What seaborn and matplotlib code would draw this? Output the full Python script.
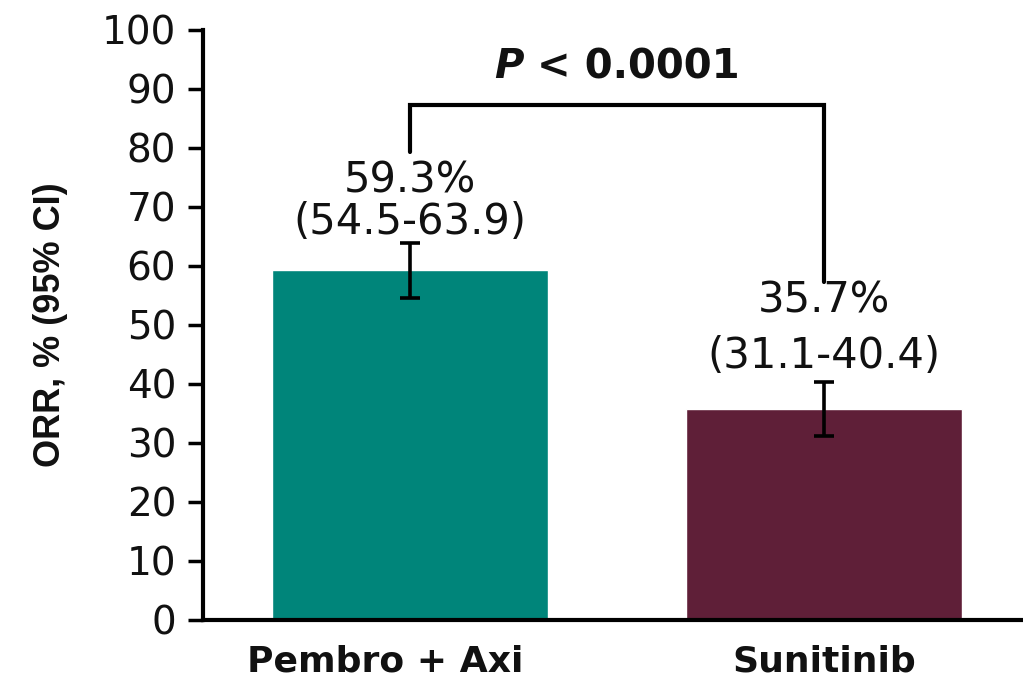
import matplotlib
matplotlib.use("Agg")
import matplotlib.pyplot as plt
import matplotlib.transforms as mtransforms
import seaborn as sns
import pandas as pd

# Objective response rate by treatment arm
arms = ["Pembro + Axi", "Sunitinib"]
orr = [59.3, 35.7]
ci_low = [54.5, 31.1]
ci_high = [63.9, 40.4]
colors = ["#00857A", "#5F1F38"]
yticks = [0, 10, 20, 30, 40, 50, 60, 70, 80, 90, 100]
p_text = " < 0.0001"

sns.set_theme(style="white")
plt.rcParams["font.family"] = ["DejaVu Sans"]

df = pd.DataFrame({"arm": arms, "orr": orr})

fig = plt.figure(figsize=(10.23, 6.79), dpi=100)
ax = fig.add_axes([0.198, 0.087, 0.802, 0.869])

sns.barplot(data=df, x="arm", y="orr", hue="arm", palette=colors,
            width=0.665, legend=False, ax=ax, saturation=1, errorbar=None)

# 95% CI whiskers
for i, (v, lo, hi) in enumerate(zip(orr, ci_low, ci_high)):
    ax.errorbar(i, v, yerr=[[v - lo], [hi - v]], fmt="none", ecolor="black",
                elinewidth=2.6, capsize=7.5, capthick=2.6, zorder=5)

# value labels above each bar
label_y = [(74.4, 67.5), (54.2, 44.7)]
for i, (v, lo, hi) in enumerate(zip(orr, ci_low, ci_high)):
    ax.text(i, label_y[i][0], f"{v:.1f}%", ha="center", va="center",
            fontsize=30, color="#111111")
    ax.text(i, label_y[i][1], f"({lo:.1f}-{hi:.1f})", ha="center", va="center",
            fontsize=30, color="#111111")

# significance bracket
ax.plot([0, 0, 1, 1], [79.3, 87.3, 87.3, 57.3], color="black", lw=3,
        solid_joinstyle="miter", clip_on=False)

# p-value: italic bold "P" followed by the bold comparison, centred over the bracket
p_y = 93.7
t_p = ax.text(0.5, p_y, "P", ha="left", va="center", fontsize=29,
              fontweight="bold", fontstyle="italic", color="#111111")
t_rest = ax.text(0.5, p_y, p_text, ha="left", va="center", fontsize=29,
                 fontweight="bold", color="#111111")
fig.canvas.draw()
renderer = fig.canvas.get_renderer()
w_p = t_p.get_window_extent(renderer).width
w_rest = t_rest.get_window_extent(renderer).width
shift = -(w_p + w_rest) / 2.0
t_p.set_transform(ax.transData + mtransforms.Affine2D().translate(shift, 0))
t_rest.set_transform(ax.transData + mtransforms.Affine2D().translate(shift + w_p, 0))

ax.set_xlim(-0.5, 1.48)
ax.set_ylim(0, 100)
ax.set_yticks(yticks)
ax.set_yticklabels([str(t) for t in yticks], fontsize=28, color="#111111")
ax.set_xticks([0, 1])
ax.set_xticklabels(arms, fontsize=26, fontweight="bold", color="#111111")
ax.set_xlabel("")
ax.set_ylabel("ORR, % (95% CI)", fontsize=26, fontweight="bold", labelpad=24,
              color="#111111", family=["Liberation Sans", "DejaVu Sans"])

sns.despine(ax=ax, top=True, right=True)
for side in ("left", "bottom"):
    ax.spines[side].set_linewidth(3)
    ax.spines[side].set_color("black")
ax.tick_params(axis="y", which="major", direction="out", length=11, width=2.5,
               color="black", left=True, pad=8)
ax.tick_params(axis="x", length=0, pad=18)

# the first arm's label sits a little left of its bar
first_label = ax.get_xticklabels()[0]
first_label.set_transform(first_label.get_transform()
                          + mtransforms.Affine2D().translate(-25, 0))

fig.savefig("out.png", dpi=100)
